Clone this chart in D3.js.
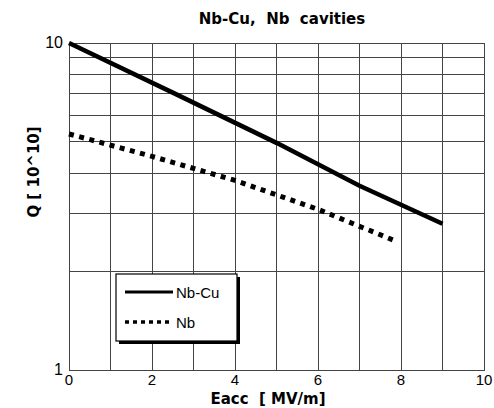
<!DOCTYPE html>
<html>
<head>
<meta charset="utf-8"/>
<script src="https://cdnjs.cloudflare.com/ajax/libs/d3/7.8.5/d3.min.js"></script>
<style>
body { margin: 0; background: #fff; }
text { font-family: "Liberation Sans", Arial, sans-serif; fill: #000; }
.lbl { font-family: "DejaVu Sans", sans-serif; font-weight: bold; }
</style>
</head>
<body>
<script>
// values
const eaccNbCu = [0, 2.5, 5, 7, 9];
const qNbCu    = [10, 7.05, 4.95, 3.66, 2.8];
const eaccNb   = [0, 2, 4, 6, 7.8];
const qNb      = [5.27, 4.5, 3.8, 3.1, 2.5];
const xTicks = [0, 2, 4, 6, 8, 10];
const yTicks = [1, 10];
const seriesNames = ['Nb-Cu', 'Nb'];

const W = 494, H = 408;
const m = { left: 69, right: 10, top: 43, bottom: 38 };

const svg = d3.select('body').append('svg')
  .attr('width', W).attr('height', H);

const x = d3.scaleLinear().domain([0, 10]).range([m.left, W - m.right]);
const y = d3.scaleLog().domain([1, 10]).range([H - m.bottom, m.top]);

// grid
const grid = svg.append('g').attr('stroke', '#444').attr('stroke-width', 1).attr('shape-rendering', 'crispEdges');
grid.selectAll('line.v').data(d3.range(1, 10)).enter().append('line')
  .attr('x1', d => x(d)).attr('x2', d => x(d))
  .attr('y1', y(1)).attr('y2', y(10));
grid.selectAll('line.h').data(d3.range(2, 10)).enter().append('line')
  .attr('x1', x(0)).attr('x2', x(10))
  .attr('y1', d => y(d)).attr('y2', d => y(d));
grid.append('rect')
  .attr('x', x(0)).attr('y', y(10))
  .attr('width', x(10) - x(0)).attr('height', y(1) - y(10))
  .attr('fill', 'none');

// tick labels
svg.selectAll('text.xt').data(xTicks).enter().append('text')
  .attr('x', d => x(d)).attr('y', y(1) + 15)
  .attr('text-anchor', 'middle').attr('font-size', 15)
  .text(d => d);
svg.selectAll('text.yt').data(yTicks).enter().append('text')
  .attr('x', x(0) - 6).attr('y', d => y(d) + 5)
  .attr('text-anchor', 'end').attr('font-size', 16)
  .text(d => d);

svg.append('text').attr('class', 'lbl').attr('x', 282).attr('y', 24)
  .attr('text-anchor', 'middle').attr('font-size', 15)
  .style('white-space', 'pre')
  .text('Nb-Cu,  Nb  cavities');
svg.append('text').attr('class', 'lbl').attr('x', 268).attr('y', 404)
  .attr('text-anchor', 'middle').attr('font-size', 15)
  .style('white-space', 'pre')
  .text('Eacc  [ MV/m]');
svg.append('text').attr('class', 'lbl')
  .attr('transform', 'translate(39,172) rotate(-90)')
  .attr('text-anchor', 'middle').attr('font-size', 15)
  .style('white-space', 'pre')
  .text('Q [ 10^10]');

// curves
const line = d3.line().x(d => x(d[0])).y(d => y(d[1]));
svg.append('path')
  .datum(d3.zip(eaccNbCu, qNbCu))
  .attr('d', line).attr('fill', 'none')
  .attr('stroke', '#000').attr('stroke-width', 4.5);
svg.append('path')
  .datum(d3.zip(eaccNb, qNb))
  .attr('d', line).attr('fill', 'none')
  .attr('stroke', '#000').attr('stroke-width', 5)
  .attr('stroke-dasharray', '5,5.5');

// legend
const lg = svg.append('g').attr('transform', 'translate(116,274)');
lg.append('rect').attr('x', 3).attr('y', 3).attr('width', 121).attr('height', 67).attr('fill', '#000');
lg.append('rect').attr('x', 0).attr('y', 0).attr('width', 121).attr('height', 67)
  .attr('fill', '#fff').attr('stroke', '#000').attr('stroke-width', 1.2);
seriesNames.forEach((n, i) => {
  const yy = 18 + i * 30;
  lg.append('line').attr('x1', 9).attr('x2', 57).attr('y1', yy).attr('y2', yy)
    .attr('stroke', '#000').attr('stroke-width', i === 0 ? 3 : 3.5)
    .attr('stroke-dasharray', i === 0 ? null : '4,4');
  lg.append('text').attr('x', 60).attr('y', yy + 6).attr('font-size', 15).text(n);
});
</script>
</body>
</html>
